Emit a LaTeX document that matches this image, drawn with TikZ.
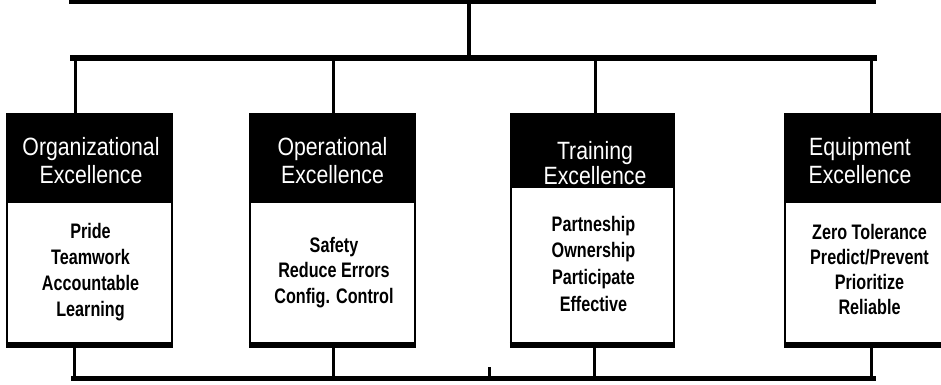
\documentclass[tikz,border=0pt]{standalone}
\usepackage{fontspec}
\setmainfont{Liberation Sans}
\usepackage{graphicx}
\newcommand{\hdtext}[2][28]{{\fontsize{25}{#1}\selectfont\scalebox{0.85}[1]{\begin{tabular}[t]{@{}c@{}}#2\end{tabular}}}}
\newcommand{\bdtext}[2][26]{{\fontsize{21}{#1}\selectfont\bfseries\scalebox{0.77}[1]{\begin{tabular}[t]{@{}c@{}}#2\end{tabular}}}}
\tikzset{
  hdbox/.style={rectangle, fill=black, draw=black, line width=2pt, inner sep=0pt, minimum height=88pt},
  bdbox/.style={rectangle, fill=white, draw=black, line width=2.5pt, inner sep=0pt, minimum height=142pt},
  hdlabel/.style={text=white, inner sep=0pt, anchor=base},
  bdlabel/.style={text=black, inner sep=0pt, anchor=base},
  bus/.style={line width=6pt, line cap=rect},
  stem/.style={line width=3pt},
  bottomedge/.style={line width=6pt}
}
\begin{document}
\begin{tikzpicture}[x=1pt,y=-1pt]
\useasboundingbox (0,0) rectangle (941,384);

% bodies
\node[bdbox, minimum width=165pt] (b1) at (89.5,273) {};
\node[bdbox, minimum width=165pt] (b2) at (332.5,273) {};
\node[bdbox, minimum width=163pt, minimum height=158pt] (b3) at (592.5,265) {};
\node[bdbox, minimum width=162pt] (b4) at (866,273) {};
\draw[bottomedge] (b1.south west) -- (b1.south east);
\draw[bottomedge] (b2.south west) -- (b2.south east);
\draw[bottomedge] (b3.south west) -- (b3.south east);
\draw[bottomedge] (b4.south west) -- (b4.south east);

% headers
\node[hdbox, minimum width=165pt] (h1) at (89.5,158) {};
\node[hdbox, minimum width=165pt] (h2) at (332.5,158) {};
\node[hdbox, minimum width=163pt, minimum height=73pt] (h3) at (592.5,150.5) {};
\node[hdbox, minimum width=162pt] (h4) at (866,158) {};

% header texts
\node[hdlabel] (t1) at (91,155) {\hdtext{Organizational\\Excellence}};
\node[hdlabel] (t2) at (332.5,155) {\hdtext{Operational\\Excellence}};
\node[hdlabel] (t3) at (595,159) {\hdtext[24]{Training\\Excellence}};
\node[hdlabel] (t4) at (860,155) {\hdtext{Equipment\\Excellence}};

% body texts
\node[bdlabel] (s1) at (90.5,238) {\bdtext{Pride\\Teamwork\\Accountable\\Learning}};
\node[bdlabel] (s2) at (334,252) {\bdtext[25.5]{Safety\\Reduce Errors\\Config. Control}};
\node[bdlabel] (s3) at (593.5,231) {\bdtext[26.7]{Partneship\\Ownership\\Participate\\Effective}};
\node[bdlabel] (s4) at (869.5,239) {\bdtext[25.3]{Zero Tolerance\\Predict/Prevent\\Prioritize\\Reliable}};

% top bus
\coordinate (tl) at (72,0.5);
\coordinate (tr) at (873,0.5);
\coordinate (tm) at (469,0.5);
\coordinate (ml) at (73,57.5);
\coordinate (mr) at (874,57.5);
\draw[bus] (tl) -- (tr);
\draw[stem, line width=3.5pt] (tm) -- (tm |- ml);
\draw[bus] (ml) -- (mr);
\coordinate (d1) at (75,57.5);
\coordinate (d2) at (333,57.5);
\coordinate (d3) at (595,57.5);
\coordinate (d4) at (871,57.5);
\draw[stem] (d1) -- (d1 |- h1.north);
\draw[stem] (d2) -- (d2 |- h2.north);
\draw[stem] (d3) -- (d3 |- h3.north);
\draw[stem] (d4) -- (d4 |- h4.north);

% bottom bus
\coordinate (bl) at (73,378);
\coordinate (br) at (873,378);
\draw[line width=5pt, line cap=rect] (bl) -- (br);
\coordinate (u1) at (74,378);
\coordinate (u2) at (333,378);
\coordinate (u3) at (594,378);
\coordinate (u4) at (871,378);
\draw[stem] (u1) -- (u1 |- b1.south);
\draw[stem] (u2) -- (u2 |- b2.south);
\draw[stem] (u3) -- (u3 |- b3.south);
\draw[stem] (u4) -- (u4 |- b4.south);
\coordinate (st) at (489,378);
\draw[stem] (st) -- ++(0,-11);
\end{tikzpicture}
\end{document}
